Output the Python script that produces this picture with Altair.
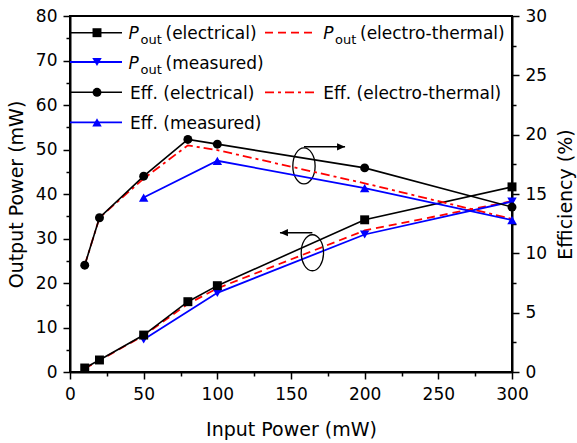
import altair as alt
import pandas as pd

# ---------------- data ----------------
pin_all = [10, 20, 50, 80, 100, 200, 300]
pin_meas = [50, 100, 200, 300]

pout_elec = [0.9, 2.7, 8.3, 15.8, 19.4, 34.2, 41.6]
pout_et = [0.8, 2.6, 8.2, 15.3, 18.8, 31.8, 38.4]
pout_meas = [7.3, 17.8, 30.9, 38.3]

eff_elec = [9.0, 13.0, 16.5, 19.6, 19.2, 17.2, 13.9]
eff_et = [9.0, 13.0, 16.3, 19.1, 18.7, 15.9, 12.9]
eff_meas = [14.7, 17.8, 15.5, 12.8]

# annotation anchors (data units, left axis)
ell_x = [158.8, 164.5]
ell_y = [46.3, 26.8]
arr_x1 = [158.8, 164.5]
arr_x2 = [186.7, 142.5]
arr_y = [50.6, 31.3]

FONT = "DejaVu Sans"

def df(x, y):
    return pd.DataFrame({"x": x, "y": y})

X = alt.X(
    "x:Q",
    scale=alt.Scale(domain=[0, 300], nice=False),
    axis=alt.Axis(
        title="Input Power (mW)",
        values=list(range(0, 301, 25)),
        labelExpr="datum.value % 50 === 0 ? datum.label : ''",
        tickSize={"condition": {"test": "datum.value % 50 === 0", "value": 7}, "value": 4},
        labelPadding=7,
        labelFlush=False,
        titleBaseline="alphabetic",
        titleY=63,
    ),
)
Y_left = alt.Y(
    "y:Q",
    scale=alt.Scale(domain=[0, 80], nice=False),
    axis=alt.Axis(
        title="Output Power (mW)",
        values=list(range(0, 81, 5)),
        labelExpr="datum.value % 10 === 0 ? datum.label : ''",
        tickSize={"condition": {"test": "datum.value % 10 === 0", "value": 7}, "value": 4},
        labelPadding=6,
        labelFlush=False,
        titleBaseline="alphabetic",
        titleX=-48,
    ),
)
Y_right = alt.Y(
    "y:Q",
    scale=alt.Scale(domain=[0, 30], nice=False),
    axis=alt.Axis(
        orient="right",
        title="Efficiency (%)",
        values=[v * 2.5 for v in range(0, 13)],
        labelExpr="datum.value % 5 === 0 ? datum.label : ''",
        tickSize={"condition": {"test": "datum.value % 5 === 0", "value": 7}, "value": 4},
        labelPadding=6,
        labelFlush=False,
        titleAngle=-90,
        titleBaseline="alphabetic",
        titleX=59,
    ),
)

def series(x, y, Y, color, width, dash=None, shape=None, size=80):
    kw = dict(color=color, strokeWidth=width)
    if dash:
        kw["strokeDash"] = dash
    if shape:
        kw["point"] = alt.OverlayMarkDef(shape=shape, size=size, filled=True, color=color, opacity=1)
    return alt.Chart(df(x, y)).mark_line(**kw).encode(x=X, y=Y)

DASH = [8, 5]
DASHDOT = [9, 4, 3, 4]

pout_layers = [
    series(pin_all, pout_et, Y_left, "#ff0000", 1.8, dash=DASH),
    series(pin_meas, pout_meas, Y_left, "#0000ff", 1.8, shape="triangle-down", size=90),
    series(pin_all, pout_elec, Y_left, "black", 1.6, shape="square", size=80),
]
eff_layers = [
    series(pin_all, eff_et, Y_right, "#ff0000", 1.8, dash=DASHDOT),
    series(pin_meas, eff_meas, Y_right, "#0000ff", 1.8, shape="triangle-up", size=90),
    series(pin_all, eff_elec, Y_right, "black", 1.6, shape="circle", size=80),
]

# ellipses & arrows
ELLIPSE = "M-0.62,0A0.62,1,0,1,0,0.62,0A0.62,1,0,1,0,-0.62,0Z"
ann_df = pd.DataFrame({"x": ell_x, "y": ell_y})
ellipses = alt.Chart(ann_df).mark_point(
    shape=ELLIPSE, size=1296, filled=False, color="black", strokeWidth=1.3, opacity=1
).encode(x=X, y=Y_left)

arr_df = pd.DataFrame({"x": arr_x1, "x2": arr_x2, "y": arr_y})
arrow_lines = alt.Chart(arr_df).mark_rule(color="black", strokeWidth=1.5).encode(
    x=X, x2="x2:Q", y=Y_left
)
head_r = alt.Chart(pd.DataFrame({"x": [arr_x2[0]], "y": [arr_y[0]]})).mark_point(
    shape="M0,0L-1,-0.45L-1,0.45Z", size=256, filled=True, color="black", opacity=1
).encode(x=X, y=Y_left)
head_l = alt.Chart(pd.DataFrame({"x": [arr_x2[1]], "y": [arr_y[1]]})).mark_point(
    shape="M0,0L1,-0.45L1,0.45Z", size=256, filled=True, color="black", opacity=1
).encode(x=X, y=Y_left)

# ---------------- manual legend (pixel positions inside the plot area) ----------------
one = pd.DataFrame({"a": [0]})
OX, OY = 70, 16  # plot-area origin in the page

def leg_line(x1, x2, y, color, width, dash=None):
    kw = dict(color=color, strokeWidth=width)
    if dash:
        kw["strokeDash"] = dash
    return alt.Chart(one).mark_rule(**kw).encode(
        x=alt.value(x1 - OX), x2=alt.value(x2 - OX), y=alt.value(y - OY)
    )

def leg_pt(x, y, color, shape, size=80):
    return alt.Chart(one).mark_point(
        shape=shape, size=size, filled=True, color=color, opacity=1
    ).encode(x=alt.value(x - OX), y=alt.value(y - OY))

def leg_txt(x, y, s, size=17, style="normal"):
    return alt.Chart(one).mark_text(
        text=s, align="left", baseline="alphabetic", font=FONT,
        fontSize=size, fontStyle=style, color="black"
    ).encode(x=alt.value(x - OX), y=alt.value(y - OY))

rows = [32.7, 62.0, 92.3, 122.3]
legend = [
    leg_line(70, 122, rows[0], "black", 1.6), leg_pt(97, rows[0], "black", "square"),
    leg_line(70, 122, rows[1], "#0000ff", 1.8), leg_pt(97, rows[1], "#0000ff", "triangle-down", 90),
    leg_line(70, 122, rows[2], "black", 1.6), leg_pt(97, rows[2], "black", "circle"),
    leg_line(70, 122, rows[3], "#0000ff", 1.8), leg_pt(97, rows[3], "#0000ff", "triangle-up", 90),
    leg_line(265, 317, rows[0], "#ff0000", 1.8, DASH),
    leg_line(265, 317, rows[2], "#ff0000", 1.8, DASHDOT),
    leg_txt(128.5, rows[0] + 6.5, "P", style="italic"),
    leg_txt(140.5, rows[0] + 11.5, "out", size=13),
    leg_txt(165.5, rows[0] + 6.5, "(electrical)"),
    leg_txt(128.5, rows[1] + 6.5, "P", style="italic"),
    leg_txt(140.5, rows[1] + 11.5, "out", size=13),
    leg_txt(165.5, rows[1] + 6.5, "(measured)"),
    leg_txt(130, rows[2] + 6.5, "Eff. (electrical)"),
    leg_txt(130, rows[3] + 6.5, "Eff. (measured)"),
    leg_txt(323.3, rows[0] + 6.5, "P", style="italic"),
    leg_txt(335, rows[0] + 11.5, "out", size=13),
    leg_txt(360, rows[0] + 6.5, "(electro-thermal)"),
    leg_txt(323.3, rows[2] + 6.5, "Eff. (electro-thermal)"),
]

left = alt.layer(*pout_layers, ellipses, arrow_lines, head_r, head_l, *legend)
right = alt.layer(*eff_layers)

chart = (
    alt.layer(left, right)
    .resolve_scale(y="independent")
    .properties(
        width=442,
        height=356,
        autosize=alt.AutoSizeParams(type="none"),
        padding={"left": 70, "top": 16, "right": 65, "bottom": 71},
        background="white",
    )
    .configure_view(stroke="black", strokeWidth=2)
    .configure_axis(
        grid=False,
        domainColor="black",
        domainWidth=2,
        tickColor="black",
        tickWidth=1.5,
        labelFont=FONT,
        labelFontSize=17,
        labelColor="black",
        titleFont=FONT,
        titleFontSize=19,
        titleFontWeight="normal",
        titleColor="black",
    )
)

chart.save("out.html", embed_options={"renderer": "svg", "actions": False})
